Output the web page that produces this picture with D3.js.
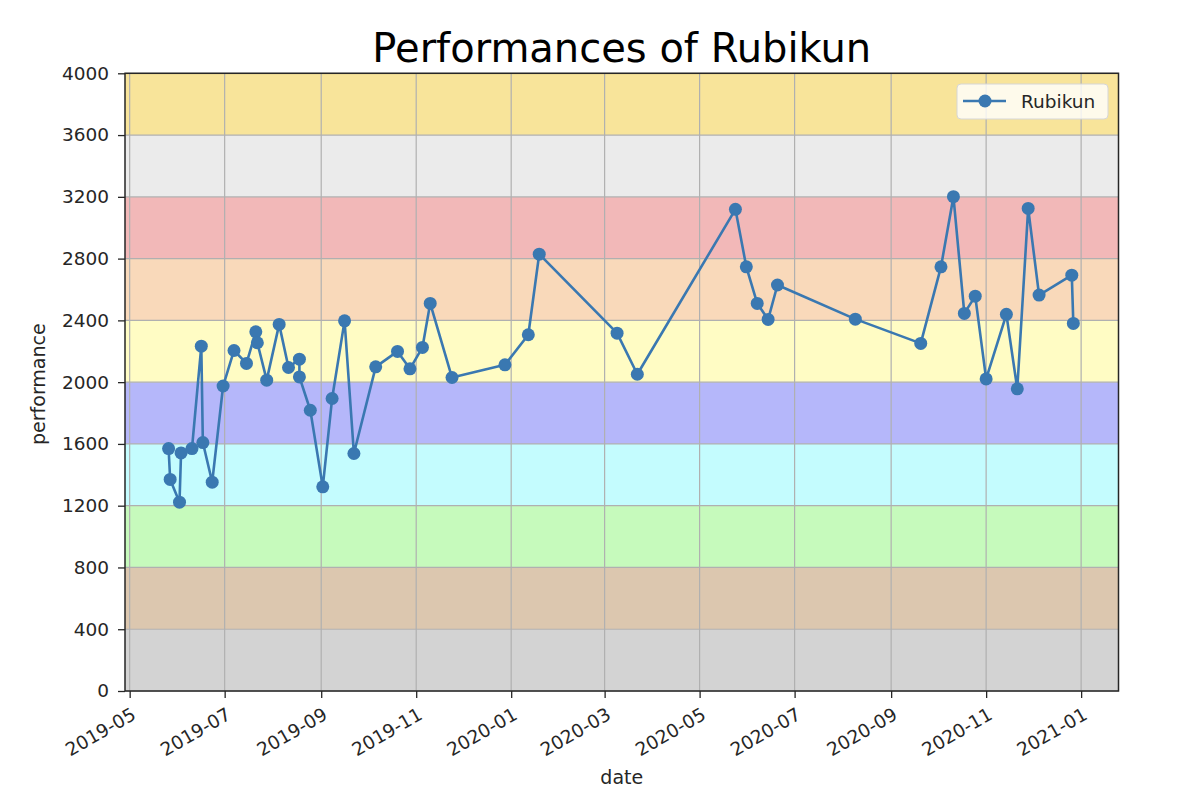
<!DOCTYPE html>
<html>
<head>
<meta charset="utf-8">
<script src="https://cdn.jsdelivr.net/npm/d3@7"></script>
<style>
  body { margin: 0; background: #fff; }
  text { font-family: "DejaVu Sans", sans-serif; fill: #262626; }
</style>
</head>
<body>
<svg id="chart" width="1200" height="804"></svg>
<script>
// ---------------- data ----------------
var dates = [
  "2019-05-26","2019-05-27","2019-06-02","2019-06-03","2019-06-10","2019-06-16","2019-06-17",
  "2019-06-23","2019-06-30","2019-07-07","2019-07-15","2019-07-21","2019-07-22","2019-07-28",
  "2019-08-05","2019-08-11","2019-08-18","2019-08-18","2019-08-25","2019-09-02","2019-09-08",
  "2019-09-16","2019-09-22","2019-10-06","2019-10-20","2019-10-28","2019-11-05","2019-11-10",
  "2019-11-24","2019-12-28","2020-01-12","2020-01-19","2020-03-09","2020-03-22","2020-05-24",
  "2020-05-31","2020-06-07","2020-06-14","2020-06-20","2020-08-09","2020-09-20","2020-10-03",
  "2020-10-11","2020-10-18","2020-10-25","2020-11-01","2020-11-14","2020-11-21","2020-11-28",
  "2020-12-05","2020-12-26","2020-12-27"
];
var performances = [
  1570,1370,1223,1542,1570,2233,1609,
  1352,1975,2205,2121,2326,2255,2013,
  2374,2095,2149,2034,1818,1322,1894,
  2397,1538,2099,2199,2086,2225,2510,
  2030,2112,2307,2829,2317,2051,3119,
  2747,2510,2406,2629,2408,2251,2747,
  3201,2445,2557,2021,2439,1957,3125,
  2564,2693,2380
];
var seriesName = "Rubikun";
var bandLower = [0, 400, 800, 1200, 1600, 2000, 2400, 2800, 3200, 3600];
var bandColors = ["#d3d3d3","#dcc7af","#c6fabc","#c4fcfe","#b5b7fa",
                  "#fffcc4","#f9d9ba","#f2b8b8","#ebebeb","#f8e49a"];
var yTicks = [0,400,800,1200,1600,2000,2400,2800,3200,3600,4000];
var xTicks = ["2019-05-01","2019-07-01","2019-09-01","2019-11-01","2020-01-01",
              "2020-03-01","2020-05-01","2020-07-01","2020-09-01","2020-11-01","2021-01-01"];

// ---------------- layout ----------------
var parse = d3.utcParse("%Y-%m-%d");
var fmt = d3.utcFormat("%Y-%m");
var mLeft = 125, mRight = 1118.5, mTop = 73.3, mBottom = 691;
var lineColor = "#3a78b1";

var svg = d3.select("#chart");

var x = d3.scaleUtc()
  .domain([parse("2019-04-28"), parse("2021-01-25")])
  .range([mLeft, mRight]);
var y = d3.scaleLinear()
  .domain([0, 4000])
  .range([mBottom, mTop]);

// bands
svg.append("g").selectAll("rect")
  .data(bandLower)
  .enter()
  .append("rect")
  .attr("x", mLeft)
  .attr("width", mRight - mLeft)
  .attr("y", function(d) { return y(d + 400); })
  .attr("height", function(d) { return y(d) - y(d + 400); })
  .attr("fill", function(d, i) { return bandColors[i]; });

// grid
var grid = svg.append("g").attr("stroke", "#b0b0b0").attr("stroke-width", 1.2);
grid.selectAll("line.v")
  .data(xTicks.map(parse))
  .enter().append("line")
  .attr("x1", function(d) { return x(d); }).attr("x2", function(d) { return x(d); })
  .attr("y1", mTop).attr("y2", mBottom);
grid.selectAll("line.h")
  .data(yTicks)
  .enter().append("line")
  .attr("x1", mLeft).attr("x2", mRight)
  .attr("y1", function(d) { return y(d); }).attr("y2", function(d) { return y(d); });

// axes
var yAxis = svg.append("g")
  .attr("transform", "translate(" + mLeft + ",0)")
  .call(d3.axisLeft(y).tickValues(yTicks).tickSize(7).tickPadding(9).tickFormat(d3.format("d")));
var xAxis = svg.append("g")
  .attr("transform", "translate(0," + mBottom + ")")
  .call(d3.axisBottom(x).tickValues(xTicks.map(parse)).tickSize(7).tickPadding(4).tickFormat(fmt));

[xAxis, yAxis].forEach(function(a) {
  a.select(".domain").remove();
  a.selectAll(".tick line").attr("stroke", "#262626").attr("stroke-width", 1.3);
  a.selectAll(".tick text").attr("font-size", "18.5px").attr("fill", "#262626")
    .attr("font-family", "DejaVu Sans, sans-serif");
});
xAxis.selectAll(".tick text")
  .attr("text-anchor", "end")
  .attr("dy", "0.6em")
  .attr("transform", "translate(-4,8) rotate(-30)");

// frame
svg.append("rect")
  .attr("x", mLeft).attr("y", mTop)
  .attr("width", mRight - mLeft).attr("height", mBottom - mTop)
  .attr("fill", "none").attr("stroke", "#262626").attr("stroke-width", 1.5);

// series
var pts = dates.map(function(d, i) { return [parse(d), performances[i]]; });
var line = d3.line()
  .x(function(d) { return x(d[0]); })
  .y(function(d) { return y(d[1]); });
svg.append("path")
  .datum(pts)
  .attr("d", line)
  .attr("fill", "none")
  .attr("stroke", lineColor)
  .attr("stroke-width", 2.6)
  .attr("stroke-linejoin", "round");
svg.append("g").selectAll("circle")
  .data(pts)
  .enter().append("circle")
  .attr("cx", function(d) { return x(d[0]); })
  .attr("cy", function(d) { return y(d[1]); })
  .attr("r", 6.5)
  .attr("fill", lineColor);

// title and labels
svg.append("text")
  .attr("x", (mLeft + mRight) / 2).attr("y", 61.5)
  .attr("text-anchor", "middle")
  .attr("font-size", "40px")
  .style("fill", "#000")
  .text("Performances of " + seriesName);
svg.append("text")
  .attr("x", (mLeft + mRight) / 2).attr("y", 784)
  .attr("text-anchor", "middle")
  .attr("font-size", "19px")
  .text("date");
svg.append("text")
  .attr("transform", "translate(44.5," + ((mTop + mBottom) / 2 + 2) + ") rotate(-90)")
  .attr("text-anchor", "middle")
  .attr("font-size", "19px")
  .text("performance");

// legend
var lg = svg.append("g");
lg.append("rect")
  .attr("x", 957).attr("y", 84).attr("width", 151).attr("height", 35)
  .attr("rx", 4)
  .attr("fill", "#fff").attr("fill-opacity", 0.8)
  .attr("stroke", "#d6d6d6").attr("stroke-width", 1);
lg.append("line")
  .attr("x1", 963).attr("x2", 1006).attr("y1", 101).attr("y2", 101)
  .attr("stroke", lineColor).attr("stroke-width", 2.6);
lg.append("circle")
  .attr("cx", 985).attr("cy", 101).attr("r", 6.5).attr("fill", lineColor);
lg.append("text")
  .attr("x", 1021).attr("y", 107.5)
  .attr("font-size", "18.5px")
  .text(seriesName);
</script>
</body>
</html>
